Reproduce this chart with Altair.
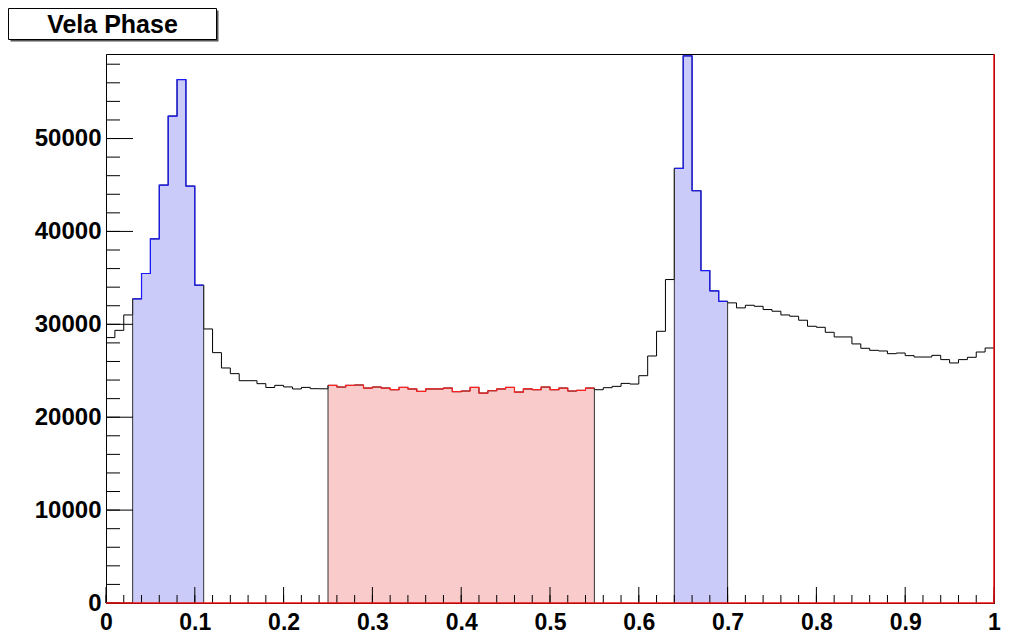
import altair as alt
import pandas as pd

# ---------------- data ----------------
bin_width = 0.01
n_bins = 100
counts = [
    28570, 29350, 31010, 32740, 35470, 39200, 44990, 52420, 56350, 44880,
    34210, 29500, 26950, 25300, 24690, 23930, 23930, 23610, 23200, 23430,
    23260, 23040, 23210, 23070, 23060,
    23430, 23250, 23430, 23470, 23140, 23250, 23140, 22960, 23210, 23040,
    22780, 23040, 23040, 23140, 22750, 22820, 23210, 22600, 22850, 23040,
    23210, 22710, 23040, 22960, 23250, 22960, 23140, 22820, 22890, 23140,
    22960, 23180, 23320, 23640, 23570, 24470, 26590, 29250, 34820, 46790,
    58900, 44380, 35790, 33600, 32480, 32310, 31770, 32050, 31940, 31590,
    31410, 31010, 30870, 30440, 29790, 29680, 29140, 28640, 28640, 27890,
    27420, 27200, 27130, 26840, 26910, 26630, 26480, 26480, 26660, 26200,
    25840, 26200, 26450, 27020, 27450,
]
blue_ranges = [(3, 11), (64, 70)]   # bin index ranges (peaks)
red_ranges = [(25, 55)]             # bin index range (off-pulse)
y_max = 59100
x_major = [0, 0.1, 0.2, 0.3, 0.4, 0.5, 0.6, 0.7, 0.8, 0.9, 1.0]
x_minor = [round(0.02 * i, 2) for i in range(51)]
y_major = [0, 10000, 20000, 30000, 40000, 50000]
y_minor = [2000 * i for i in range(30)]
title_text = "Vela Phase"

FONT = "Liberation Sans"
W, H = 888, 549
PAD_L, PAD_T = 98, 46

lo = [round(i * bin_width, 2) for i in range(n_bins)]
hi = [round((i + 1) * bin_width, 2) for i in range(n_bins)]

# full histogram outline
hist_pts = pd.DataFrame({"x": lo + [1.0], "y": counts + [counts[-1]]})

def region_frames(ranges, name):
    lines, edges = [], []
    for k, (a, b) in enumerate(ranges):
        for i in range(a, b):
            lines.append({"x": lo[i], "y": counts[i], "g": f"{name}{k}"})
        lines.append({"x": hi[b - 1], "y": counts[b - 1], "g": f"{name}{k}"})
        edges.append({"x": lo[a], "y": counts[a]})
        edges.append({"x": hi[b - 1], "y": counts[b - 1]})
    return pd.DataFrame(lines), pd.DataFrame(edges)

bl, be = region_frames(blue_ranges, "b")
rl, re_ = region_frames(red_ranges, "r")

xs = alt.Scale(domain=[0, 1], nice=False, zero=False)
ys = alt.Scale(domain=[0, y_max], nice=False, zero=False)

XA = alt.Axis(values=x_major, format="~g", ticks=False, grid=False,
              labelFontSize=23, labelPadding=8, labelOverlap=False,
              labelFlush=False, domain=True, domainColor="#000000", title=None)
YA = alt.Axis(values=y_major, format="d", ticks=False, grid=False,
              labelFontSize=24, labelPadding=5, labelOverlap=False,
              labelFlush=False, domain=True, domainColor="#000000", title=None)

def X(f):
    return alt.X(f, scale=xs, axis=XA, title=None)

def Y(f):
    return alt.Y(f, scale=ys, axis=YA, title=None)

fill_blue = alt.Chart(bl).mark_area(interpolate="step-after", color="#cbcbf9").encode(
    x=X("x:Q"), y=Y("y:Q"), y2=alt.datum(0), detail="g:N")
fill_red = alt.Chart(rl).mark_area(interpolate="step-after", color="#f9cbcb").encode(
    x=X("x:Q"), y=Y("y:Q"), y2=alt.datum(0), detail="g:N")

hist_line = alt.Chart(hist_pts).mark_line(
    interpolate="step-after", color="#000000", strokeWidth=1
).encode(x=X("x:Q"), y=Y("y:Q"))

blue_line = alt.Chart(bl).mark_line(
    interpolate="step-after", color="#1a1aff", strokeWidth=1.2
).encode(x=X("x:Q"), y=Y("y:Q"), detail="g:N")
red_line = alt.Chart(rl).mark_line(
    interpolate="step-after", color="#ff2020", strokeWidth=1.2
).encode(x=X("x:Q"), y=Y("y:Q"), detail="g:N")

edges = alt.Chart(pd.concat([be, re_])).mark_rule(color="#333333", strokeWidth=1).encode(
    x=X("x:Q"), y=Y("y:Q"), y2=alt.datum(0))

# inward ticks (ROOT style)
ymaj = alt.Chart(pd.DataFrame({"t": y_major})).mark_rule(color="#000000").encode(
    y=Y("t:Q"), x=alt.value(0), x2=alt.value(27))
ymin = alt.Chart(pd.DataFrame({"t": y_minor})).mark_rule(color="#000000").encode(
    y=Y("t:Q"), x=alt.value(0), x2=alt.value(14))
xmaj = alt.Chart(pd.DataFrame({"t": x_major})).mark_rule(color="#000000").encode(
    x=X("t:Q"), y=alt.value(H), y2=alt.value(H - 16))
xmin = alt.Chart(pd.DataFrame({"t": x_minor})).mark_rule(color="#000000").encode(
    x=X("t:Q"), y=alt.value(H), y2=alt.value(H - 8))

# red baseline and red right edge
red_base = alt.Chart(pd.DataFrame({"a": [0], "b": [1]})).mark_rule(color="#ee1111", strokeWidth=1.5).encode(
    x=X("a:Q"), x2="b:Q", y=alt.value(H))
red_right = alt.Chart(pd.DataFrame({"a": [1]})).mark_rule(color="#ee1111", strokeWidth=1.5).encode(
    x=X("a:Q"), y=alt.value(0), y2=alt.value(H))

# title box with shadow (page coords: x 8..217, y ~8..40)
one = pd.DataFrame({"k": [0]})
bx0, bx1 = 8.5 - 8 - PAD_L, 216.5 - 8 - PAD_L
by0, by1 = 8.5 - 8 - PAD_T, 39.5 - 8 - PAD_T
shadow = alt.Chart(one).mark_rect(color="#555555").encode(
    x=alt.value(bx0 + 2), x2=alt.value(bx1 + 2), y=alt.value(by0 + 2), y2=alt.value(by1 + 2))
box = alt.Chart(one).mark_rect(fill="#ffffff", stroke="#000000", strokeWidth=1).encode(
    x=alt.value(bx0), x2=alt.value(bx1), y=alt.value(by0), y2=alt.value(by1))
ttl = alt.Chart(one).mark_text(
    text=title_text, font=FONT, fontSize=25, fontWeight="bold", color="#000000",
    align="center", baseline="middle").encode(
    x=alt.value((bx0 + bx1) / 2), y=alt.value((by0 + by1) / 2 + 1))

chart = alt.layer(
    fill_blue, fill_red, hist_line, blue_line, red_line, edges,
    ymaj, ymin, xmaj, xmin, red_base, red_right, shadow, box, ttl
).properties(
    width=W, height=H,
    autosize=alt.AutoSizeParams(type="none"),
    padding={"left": PAD_L, "top": PAD_T, "right": 8, "bottom": 32},
    background="#ffffff",
).configure_view(
    stroke="#000000", strokeWidth=1
).configure_axis(
    labelFont=FONT, labelFontWeight="bold", labelColor="#000000"
)

chart.save("out.html", embed_options={"renderer": "svg", "actions": False})
